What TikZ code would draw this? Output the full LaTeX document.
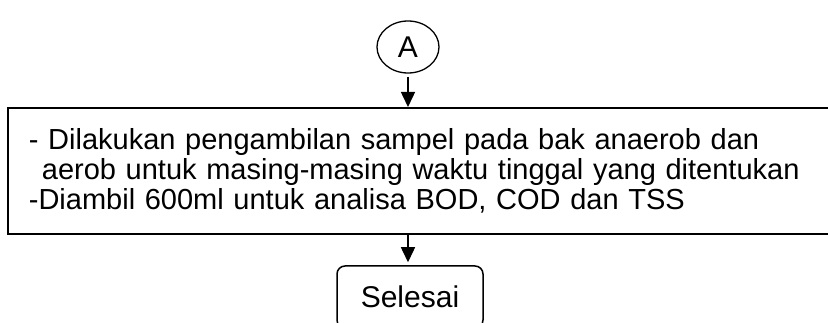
\documentclass[tikz,border=0pt]{standalone}
\usepackage{fontspec}
\setmainfont{Liberation Sans}
\usetikzlibrary{arrows.meta,positioning,shapes.geometric}
\definecolor{ink}{RGB}{0,0,0}
\tikzset{
  conn/.style={draw=ink,ellipse,line width=1.3pt,inner sep=0pt,
    minimum width=62pt,minimum height=52pt,font=\fontsize{30}{32}\selectfont},
  proc/.style={draw=ink,line width=1.8pt,inner xsep=21pt,inner ysep=0pt,
    text width=787pt,minimum height=126pt,align=left,
    font=\fontsize{29}{30}\selectfont},
  term/.style={draw=ink,rounded corners=8pt,line width=1.5pt,
    minimum width=146pt,minimum height=62pt,font=\fontsize{30}{32}\selectfont},
  arr/.style={-{Triangle[length=15pt,width=14pt]},line width=1.5pt,ink},
}

\begin{document}
\begin{tikzpicture}[x=1pt,y=-1pt]
\useasboundingbox (0,0) rectangle (828,323);
\clip (0,0) rectangle (828,323);
% connector and steps
\node[conn] (A) at (408,47) {A};
\node[proc,anchor=north west] (samp) at (7,107)
  {- Dilakukan pengambilan sampel pada bak anaerob dan\\
   \hspace*{13pt}aerob untuk masing-masing waktu tinggal yang ditentukan\\
   -Diambil 600ml untuk analisa BOD, COD dan TSS};
\node[term] (end) at (410,297) {Selesai};

% arrows
\draw[arr,shorten <=3pt] (A) -- (A |- samp.north);
\draw[arr,shorten >=3pt] (A |- samp.south) -- (A |- end.north);
\end{tikzpicture}
\end{document}
